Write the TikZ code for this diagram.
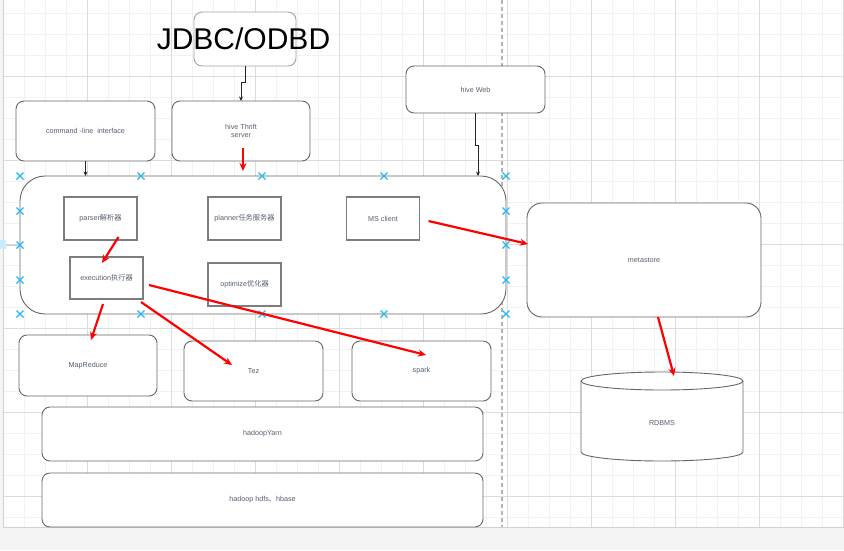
\documentclass[tikz,border=0pt]{standalone}
\usepackage{fontspec}
\setmainfont{Liberation Sans}
\newfontfamily\cjk{Noto Sans CJK SC}
\usetikzlibrary{arrows.meta}

\definecolor{bggray}{HTML}{F4F4F4}
\definecolor{minorline}{HTML}{F2F2F2}
\definecolor{majorline}{HTML}{DCDCDC}
\definecolor{boxline}{HTML}{666666}
\definecolor{txtgray}{HTML}{55606E}
\definecolor{markblue}{HTML}{29B6F2}
\definecolor{arrowred}{HTML}{FF0000}

\tikzset{
  layer/.style={draw=boxline, fill=white, rounded corners=8pt, line width=0.9pt,
    inner sep=0pt, outer sep=0pt, text=txtgray, align=center,
    font=\fontsize{7.2}{8.6}\selectfont},
  module/.style={draw=boxline!85, fill=white, line width=1.4pt, inner sep=0pt,
    outer sep=0pt, text=txtgray, minimum width=73pt, minimum height=43pt,
    font=\fontsize{7.2}{8.6}\selectfont},
  redarrow/.style={draw=arrowred, line width=2.2pt, -{Stealth[length=8pt,width=7pt]}},
  linkarrow/.style={draw=black!85, line width=0.8pt, -{Stealth[length=4.5pt,width=4pt]}},
  anchormark/.pic={\draw[markblue, line width=1.2pt] (-3.5pt,-3.5pt) -- (3.5pt,3.5pt)
    (-3.5pt,3.5pt) -- (3.5pt,-3.5pt);}
}

\begin{document}
\begin{tikzpicture}[x=1pt, y=-1pt]
  \useasboundingbox (0,0) rectangle (844,550);

  % Canvas and grid
  \fill[bggray] (0,0) rectangle (844,550);
  \fill[white] (3,0) rectangle (844,527);
  \foreach \gx in {3,24,...,843} \draw[minorline, line width=0.8pt] (\gx,0) -- (\gx,527);
  \foreach \gy in {13,34,...,517} \draw[minorline, line width=0.8pt] (3,\gy) -- (844,\gy);
  \foreach \gx in {87,171,...,843} \draw[majorline, line width=0.8pt] (\gx,0) -- (\gx,527);
  \foreach \gy in {76,160,...,496} \draw[majorline, line width=0.8pt] (3,\gy) -- (844,\gy);
  \draw[black!18, line width=1pt] (3,0) -- (3,527) -- (844,527);
  \draw[black!30, line width=1.1pt, dash pattern=on 4pt off 3pt] (502,0) -- (502,527);
  \fill[markblue!25] (0,240) rectangle (6,249);
  \draw[black!20, line width=0.6pt] (6,245) -- (20,245);

  % Clients
  \node[layer, draw=boxline!60, minimum width=102pt, minimum height=54pt] (jdbc) at (245,39) {};
  \node[anchor=base, font=\fontsize{30}{30}\selectfont, inner sep=0pt] (jdbctext) at (243.5,49) {JDBC/ODBD};
  \node[layer, minimum width=139pt, minimum height=60pt] (cli) at (85.5,131) {command -line\ \ interface};
  \node[layer, minimum width=138pt, minimum height=60pt] (thrift) at (241,131) {hive Thrift\\server};
  \node[layer, minimum width=139pt, minimum height=47pt] (web) at (475.5,89.5) {hive Web};

  % Hive driver
  \node[layer, rounded corners=25pt, minimum width=486pt, minimum height=138pt] (hive) at (263,245) {};
  \foreach \mx in {20,141,262,384,506} {
    \pic at (\mx,176) {anchormark};
    \pic at (\mx,314) {anchormark};
  }
  \foreach \my in {211,245,280} {
    \pic at (20,\my) {anchormark};
    \pic at (506,\my) {anchormark};
  }
  \node[module] (parser) at (100.5,218.5) {parser{\cjk 解析器}};
  \node[module] (planner) at (244.5,218.5) {planner{\cjk 任务服务器}};
  \node[module] (msclient) at (383,218.5) {MS client};
  \node[module, minimum height=42pt] (exec) at (106.5,278) {execution{\cjk 执行器}};
  \node[module] (optimize) at (244.5,284.5) {optimize{\cjk 优化器}};

  % Engines and storage
  \node[layer, minimum width=138pt, minimum height=61pt] (mapreduce) at (88,365.5) {MapReduce};
  \node[layer, minimum width=139pt, minimum height=60pt] (tez) at (253.5,371) {Tez};
  \node[layer, minimum width=139pt, minimum height=60pt] (spark) at (421.5,371) {spark};
  \node[layer, minimum width=441pt, minimum height=54pt] (yarn) at (262.5,434) {hadoopYarn};
  \node[layer, minimum width=441pt, minimum height=54pt] (hdfs) at (262.5,500) {hadoop hdfs{\cjk 、}hbase};

  % Metastore
  \node[layer, rounded corners=15pt, minimum width=234pt, minimum height=114pt] (metastore) at (644,260) {metastore};
  \fill[white] (581,381) rectangle (743,452);
  \fill[white] (662,452) ellipse [x radius=81pt, y radius=9pt];
  \draw[boxline, line width=0.9pt] (581,381) -- (581,452)
    arc[start angle=180, end angle=360, x radius=81pt, y radius=9pt] -- (743,381);
  \draw[boxline, fill=white, line width=0.9pt] (662,381) ellipse [x radius=81pt, y radius=9pt];
  \node[text=txtgray, font=\fontsize{7.2}{8.6}\selectfont, minimum width=162pt, minimum height=60pt] (rdbms) at (662,423) {RDBMS};

  % Black links
  \draw[linkarrow] (jdbc.south) -- ++(0,16) -| (thrift.north);
  \draw[linkarrow] (cli.south) -- (cli.south |- hive.north);
  \draw[linkarrow] (web.south) -- ++(0,32) -| ([xshift=-28pt]hive.north east);

  % Red flows
  \draw[redarrow] ([xshift=2pt,yshift=13pt]thrift.south) -- ([xshift=-20pt,yshift=5pt]hive.north);
  \draw[redarrow] ([xshift=18pt,yshift=3pt]parser.south) -- ([xshift=-4.5pt,yshift=-6pt]exec.north);
  \draw[redarrow] ([xshift=-3.5pt,yshift=-5pt]exec.south) -- ([xshift=3pt,yshift=-5pt]mapreduce.north);
  \draw[redarrow] ([xshift=-2pt,yshift=-3pt]exec.south east) -- ([xshift=-21.5pt,yshift=6pt]tez.center);
  \draw[redarrow] ([xshift=6pt,yshift=-7pt]exec.east) -- ([xshift=4.5pt,yshift=16pt]spark.center);
  \draw[redarrow] ([xshift=9pt,yshift=-2.5pt]msclient.east) -- ([xshift=1pt,yshift=16pt]metastore.west);
  \draw[redarrow] ([xshift=14pt]metastore.south) -- ([xshift=12pt,yshift=47pt]rdbms.center);
\end{tikzpicture}
\end{document}
